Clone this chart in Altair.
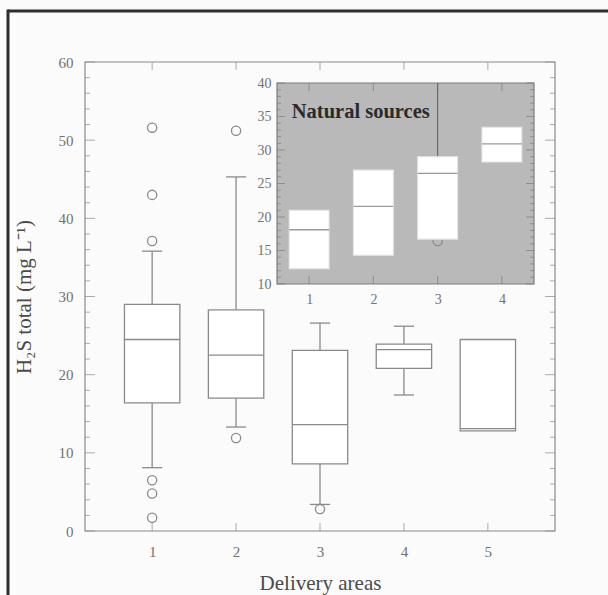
import altair as alt
import pandas as pd

# ---- Delivery areas (main panel) ----
areas = [1, 2, 3, 4, 5]
q1 = [16.4, 17.0, 8.6, 20.8, 12.8]
median = [24.5, 22.5, 13.6, 23.2, 13.1]
q3 = [29.0, 28.3, 23.1, 23.9, 24.5]
whisker_low = [8.1, 13.3, 3.4, 17.4, None]
whisker_high = [35.8, 45.3, 26.6, 26.2, None]
outlier_area = [1, 1, 1, 1, 1, 1, 2, 2, 3]
outlier_value = [51.6, 43.0, 37.1, 6.5, 4.8, 1.7, 51.2, 11.9, 2.8]

# ---- Natural sources (inset) ----
sources = [1, 2, 3, 4]
src_q1 = [12.3, 14.3, 16.7, 28.2]
src_median = [18.1, 21.6, 26.5, 30.9]
src_q3 = [21.0, 27.0, 29.0, 33.4]
src_whisker_high = [None, None, 40.0, None]
src_outlier_area = [3]
src_outlier_value = [16.4]

# ---- tick positions ----
main_x_ticks = [1, 2, 3, 4, 5]
main_y_major = [0, 10, 20, 30, 40, 50, 60]
main_y_minor = [v for v in range(0, 61, 2) if v % 10]
inset_x_ticks = [1, 2, 3, 4]
inset_y_major = [10, 15, 20, 25, 30, 35, 40]
inset_y_minor = [v for v in range(10, 41) if v % 5]

FONT = "Liberation Serif"
LINE = "#8a8a8a"
LABEL = "#727272"
TITLE = "#4a4a4a"
W, H = 470, 469

box_df = pd.DataFrame({"area": areas, "q1": q1, "median": median, "q3": q3,
                       "wlo": whisker_low, "whi": whisker_high})
out_df = pd.DataFrame({"area": outlier_area, "value": outlier_value})
src_df = pd.DataFrame({"area": sources, "q1": src_q1, "median": src_median,
                       "q3": src_q3, "whi": src_whisker_high})
src_out_df = pd.DataFrame({"area": src_outlier_area, "value": src_outlier_value})
one = pd.DataFrame({"k": [0]})

XM = alt.Scale(domain=[0.2, 5.8], nice=False, zero=False)
YM = alt.Scale(domain=[0, 60], nice=False, zero=False)
XI = alt.Scale(domain=[0.5, 4.5], range=[192, 449], nice=False, zero=False)
YI = alt.Scale(domain=[10, 40], range=[222, 21], nice=False, zero=False)

AXM_X = alt.Axis(values=main_x_ticks, format="d", tickSize=0, domain=False, grid=False,
                 orient="bottom",
                 labelFont=FONT, labelFontSize=15, labelColor=LABEL, labelPadding=13,
                 title="Delivery areas", titleFont=FONT, titleFontSize=21,
                 titleFontWeight="normal", titleColor=TITLE,
                 titleX=W / 2, titleY=52, titleAlign="center", titleBaseline="middle")
AXM_Y = alt.Axis(values=main_y_major, format="d", tickSize=0, domain=False, grid=False,
                 orient="left",
                 labelFont=FONT, labelFontSize=15, labelColor=LABEL, labelPadding=12,
                 title="H₂S total (mg L⁻¹)", titleFont=FONT, titleFontSize=21,
                 titleFontWeight="normal", titleColor=TITLE, titleAngle=270,
                 titleX=-61, titleY=H / 2, titleAlign="center", titleBaseline="middle")
AXI_X = alt.Axis(values=inset_x_ticks, format="d", tickSize=0, domain=False, grid=False,
                 orient="bottom", offset=-(H - 222),
                 labelFont=FONT, labelFontSize=14, labelColor=LABEL, labelPadding=8,
                 title="")
AXI_Y = alt.Axis(values=inset_y_major, format="d", tickSize=0, domain=False, grid=False,
                 orient="left", offset=-192,
                 labelFont=FONT, labelFontSize=14, labelColor=LABEL, labelPadding=6,
                 title="")

# Every layer of a panel carries the same axis definition so the shared axes merge cleanly.
MAIN = dict(xs=XM, ys=YM, xa=AXM_X, ya=AXM_Y)
INSET = dict(xs=XI, ys=YI, xa=AXI_X, ya=AXI_Y)


def X(field, p):
    return alt.X(field, scale=p["xs"], axis=p["xa"])


def Y(field, p):
    return alt.Y(field, scale=p["ys"], axis=p["ya"])


def XD(v, p):
    return alt.XDatum(v, scale=p["xs"], axis=p["xa"])


def YD(v, p):
    return alt.YDatum(v, scale=p["ys"], axis=p["ya"])


def yticks(values, xs, p, length, offset, color):
    return alt.Chart(pd.DataFrame({"v": values})).mark_tick(
        orient="horizontal", size=length, thickness=1, xOffset=offset, color=color
    ).encode(x=XD(xs, p), y=Y("v:Q", p))


def xticks(values, ys, p, length, offset, color):
    return alt.Chart(pd.DataFrame({"v": values})).mark_tick(
        orient="vertical", size=length, thickness=1, yOffset=offset, color=color
    ).encode(x=X("v:Q", p), y=YD(ys, p))


def box_layers(df, p, half, cap_half, box_fill, box_stroke, med_color, wcolor, sw):
    calc = dict(lo=f"datum.area - {half}", hi=f"datum.area + {half}")
    boxes = alt.Chart(df).transform_calculate(**calc).mark_rect(
        fill=box_fill, stroke=box_stroke, strokeWidth=sw
    ).encode(x=X("lo:Q", p), x2="hi:Q", y=Y("q1:Q", p), y2="q3:Q")
    medians = alt.Chart(df).transform_calculate(**calc).mark_rule(
        color=med_color, strokeWidth=1.3
    ).encode(x=X("lo:Q", p), x2="hi:Q", y=Y("median:Q", p))
    layers = []
    ccalc = dict(clo=f"datum.area - {cap_half}", chi=f"datum.area + {cap_half}")
    for edge, w in (("q3", "whi"), ("q1", "wlo")):
        if w not in df.columns:
            continue
        valid = f"isValid(datum.{w})"
        layers.append(alt.Chart(df).transform_filter(valid).mark_rule(
            color=wcolor, strokeWidth=sw, clip=True
        ).encode(x=X("area:Q", p), y=Y(f"{edge}:Q", p), y2=f"{w}:Q"))
        if cap_half:
            layers.append(alt.Chart(df).transform_filter(valid).transform_calculate(**ccalc)
                          .mark_rule(color=wcolor, strokeWidth=sw)
                          .encode(x=X("clo:Q", p), x2="chi:Q", y=Y(f"{w}:Q", p)))
    return layers + [boxes, medians]


# ---------- main panel ----------
frame = alt.Chart(one).mark_rect(fill=None, stroke=LINE, strokeWidth=1.2).encode(
    x=XD(0.2, MAIN), x2=alt.X2Datum(5.8), y=YD(0, MAIN), y2=alt.Y2Datum(60))

outer_top = alt.Chart(one).mark_rule(color="#2e2e2e", strokeWidth=3).encode(
    x=alt.value(-77), x2=alt.value(W + 60), y=alt.value(-51))
outer_left = alt.Chart(one).mark_rule(color="#2e2e2e", strokeWidth=3).encode(
    x=alt.value(-77), y=alt.value(-52.5), y2=alt.value(H + 70))

main_outliers = alt.Chart(out_df).mark_point(
    shape="circle", filled=False, size=85, strokeWidth=1.3, color=LINE, opacity=1
).encode(x=X("area:Q", MAIN), y=Y("value:Q", MAIN))

main_layer = alt.layer(
    frame,
    yticks(main_y_major, 0.2, MAIN, 10, 5, LINE),
    yticks(main_y_minor, 0.2, MAIN, 5, 2.5, LINE),
    yticks(main_y_major, 5.8, MAIN, 10, -5, LINE),
    yticks(main_y_minor, 5.8, MAIN, 5, -2.5, LINE),
    xticks(main_x_ticks, 0, MAIN, 8, -4, LINE),
    xticks(main_x_ticks, 60, MAIN, 8, 4, LINE),
    *box_layers(box_df, MAIN, 0.33, 0.12, "white", LINE, LINE, LINE, 1.3),
    main_outliers,
    outer_top, outer_left,
)

# ---------- inset: natural sources ----------
INSET_BG = "#b9b9b9"
INSET_LINE = "#7c7c7c"

inset_bg = alt.Chart(one).mark_rect(fill=INSET_BG, stroke=INSET_LINE, strokeWidth=1.2).encode(
    x=XD(0.5, INSET), x2=alt.X2Datum(4.5), y=YD(10, INSET), y2=alt.Y2Datum(40))

src_outliers = alt.Chart(src_out_df).mark_point(
    shape="circle", filled=False, size=85, strokeWidth=1.2, color="#8a8a8a", opacity=1
).encode(x=X("area:Q", INSET), y=Y("value:Q", INSET))

inset_label = alt.Chart(one).mark_text(
    text="Natural sources", font=FONT, fontSize=20.5, fontWeight="bold",
    color="#2b2b2b", align="left", baseline="middle"
).encode(x=XD(0.73, INSET), y=YD(35.7, INSET))

inset_layer = alt.layer(
    inset_bg,
    yticks(inset_y_major, 0.5, INSET, 8, 4, INSET_LINE),
    yticks(inset_y_minor, 0.5, INSET, 4, 2, INSET_LINE),
    yticks(inset_y_major, 4.5, INSET, 8, -4, INSET_LINE),
    yticks(inset_y_minor, 4.5, INSET, 4, -2, INSET_LINE),
    xticks(inset_x_ticks, 10, INSET, 8, -4, INSET_LINE),
    xticks(inset_x_ticks, 40, INSET, 8, 4, INSET_LINE),
    src_outliers,
    *box_layers(src_df, INSET, 0.31, 0, "white", "#e6e6e6", "#9a9a9a", "#666666", 1.1),
    inset_label,
)

chart = alt.layer(main_layer, inset_layer).resolve_scale(
    x="independent", y="independent"
).resolve_axis(
    x="independent", y="independent"
).properties(
    width=W, height=H, background="#fbfbfb",
    autosize=alt.AutoSizeParams(type="none"),
    padding={"left": 85, "top": 62, "right": 53, "bottom": 64},
).configure_view(stroke=None).configure_text(font=FONT)

chart.save("out.html", embed_options={"renderer": "svg", "actions": False})
